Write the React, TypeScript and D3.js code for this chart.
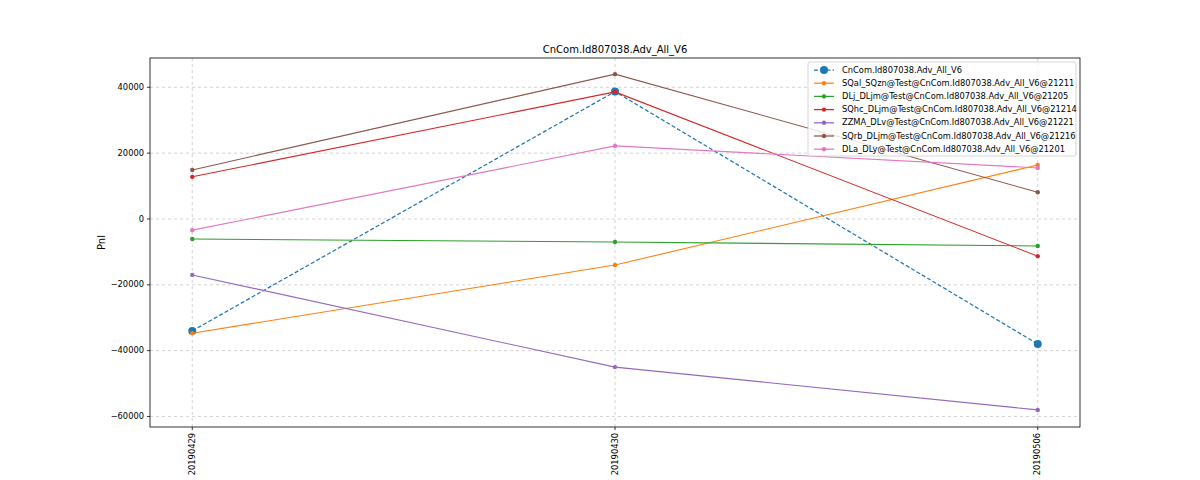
import React from "react";
import * as d3 from "d3";

const dates = ["20190429", "20190430", "20190506"];
const seriesNames = [
  "CnCom.Id807038.Adv_All_V6",
  "SQal_SQzn@Test@CnCom.Id807038.Adv_All_V6@21211",
  "DLj_DLjm@Test@CnCom.Id807038.Adv_All_V6@21205",
  "SQhc_DLjm@Test@CnCom.Id807038.Adv_All_V6@21214",
  "ZZMA_DLv@Test@CnCom.Id807038.Adv_All_V6@21221",
  "SQrb_DLjm@Test@CnCom.Id807038.Adv_All_V6@21216",
  "DLa_DLy@Test@CnCom.Id807038.Adv_All_V6@21201",
];
const colors = ["#1f77b4", "#ff7f0e", "#2ca02c", "#d62728", "#9467bd", "#8c564b", "#e377c2"];
const totalPnl = [-34000, 38700, -38000];
const sqalPnl = [-34700, -14000, 16400];
const dljPnl = [-6100, -7000, -8200];
const sqhcPnl = [12800, 38600, -11300];
const zzmaPnl = [-17000, -45000, -58000];
const sqrbPnl = [14900, 44000, 8100];
const dlaPnl = [-3400, 22200, 15500];
const yTicks = [-60000, -40000, -20000, 0, 20000, 40000];

const allSeries = [totalPnl, sqalPnl, dljPnl, sqhcPnl, zzmaPnl, sqrbPnl, dlaPnl];

export default function App() {
  const width = 1200;
  const height = 480;
  const margin = { top: 58, right: 120, bottom: 53, left: 150 };
  const innerW = width - margin.left - margin.right;
  const innerH = height - margin.top - margin.bottom;
  const font = "DejaVu Sans, sans-serif";

  // categorical x with matplotlib-style 5% margins
  const xs = d3.scaleLinear().domain([-0.1, dates.length - 1 + 0.1]).range([0, innerW]);
  const xPos = (i: number) => xs(i);
  const y = d3.scaleLinear().domain([-63200, 48900]).range([innerH, 0]);

  const line = d3
    .line<number>()
    .x((_, i) => xPos(i))
    .y((d) => y(d));

  const fmt = (t: number) => (t < 0 ? "\u2212" + String(-t) : String(t));

  return (
    <div style={{ position: "absolute", left: 0, top: 0 }}>
      <svg width={width} height={height} style={{ display: "block", background: "#fff" }}>
        <text x={margin.left + innerW / 2} y={53} textAnchor="middle" fontFamily={font} fontSize={10} fill="#000">
          CnCom.Id807038.Adv_All_V6
        </text>
        <g transform={`translate(${margin.left},${margin.top})`}>
          {/* grid */}
          {yTicks.map((t) => (
            <line key={"gy" + t} x1={0} x2={innerW} y1={y(t)} y2={y(t)} stroke="#b0b0b0" strokeOpacity={0.7} strokeDasharray="3,3" strokeWidth={0.8} />
          ))}
          {dates.map((d, i) => (
            <line key={"gx" + d} x1={xPos(i)} x2={xPos(i)} y1={0} y2={innerH} stroke="#b0b0b0" strokeOpacity={0.7} strokeDasharray="3,3" strokeWidth={0.8} />
          ))}
          {/* series */}
          {allSeries.map((s, k) => (
            <g key={seriesNames[k]}>
              <path
                d={line(s) || ""}
                fill="none"
                stroke={colors[k]}
                strokeWidth={k === 0 ? 1.25 : 1.1}
                strokeDasharray={k === 0 ? "4,2.2" : undefined}
              />
              {s.map((v, i) => (
                <circle key={i} cx={xPos(i)} cy={y(v)} r={k === 0 ? 4 : 2.2} fill={colors[k]} />
              ))}
            </g>
          ))}
          {/* axes frame */}
          <rect x={0} y={0} width={innerW} height={innerH} fill="none" stroke="#000" strokeWidth={0.8} />
          {/* y ticks */}
          {yTicks.map((t) => (
            <g key={"yt" + t} transform={`translate(0,${y(t)})`}>
              <line x1={-3} x2={0} stroke="#000" strokeWidth={0.8} />
              <text x={-6} dy="0.32em" textAnchor="end" fontFamily={font} fontSize={8.3} fill="#000">
                {fmt(t)}
              </text>
            </g>
          ))}
          {/* x ticks */}
          {dates.map((d, i) => (
            <g key={"xt" + d} transform={`translate(${xPos(i)},${innerH})`}>
              <line y1={0} y2={3} stroke="#000" strokeWidth={0.8} />
              <text transform="translate(0,6) rotate(-90)" dy="0.32em" textAnchor="end" fontFamily={font} fontSize={8.3} fill="#000">
                {d}
              </text>
            </g>
          ))}
          <text transform={`translate(${-45},${innerH / 2}) rotate(-90)`} textAnchor="middle" fontFamily={font} fontSize={10} fill="#000">
            Pnl
          </text>
          {/* legend */}
          <g transform={`translate(${innerW - 272},4)`}>
            <rect x={0} y={0} width={268} height={94} rx={2} fill="#fff" fillOpacity={0.8} stroke="#ccc" strokeWidth={0.8} />
            {seriesNames.map((n, k) => (
              <g key={"lg" + n} transform={`translate(6,${8 + k * 13.2})`}>
                <line x1={0} x2={20} y1={0} y2={0} stroke={colors[k]} strokeWidth={1.25} strokeDasharray={k === 0 ? "4,2.2" : undefined} />
                <circle cx={10} cy={0} r={k === 0 ? 4 : 2.2} fill={colors[k]} />
                <text x={28} dy="0.32em" fontFamily={font} fontSize={8.3} fill="#000">
                  {n}
                </text>
              </g>
            ))}
          </g>
        </g>
      </svg>
    </div>
  );
}
